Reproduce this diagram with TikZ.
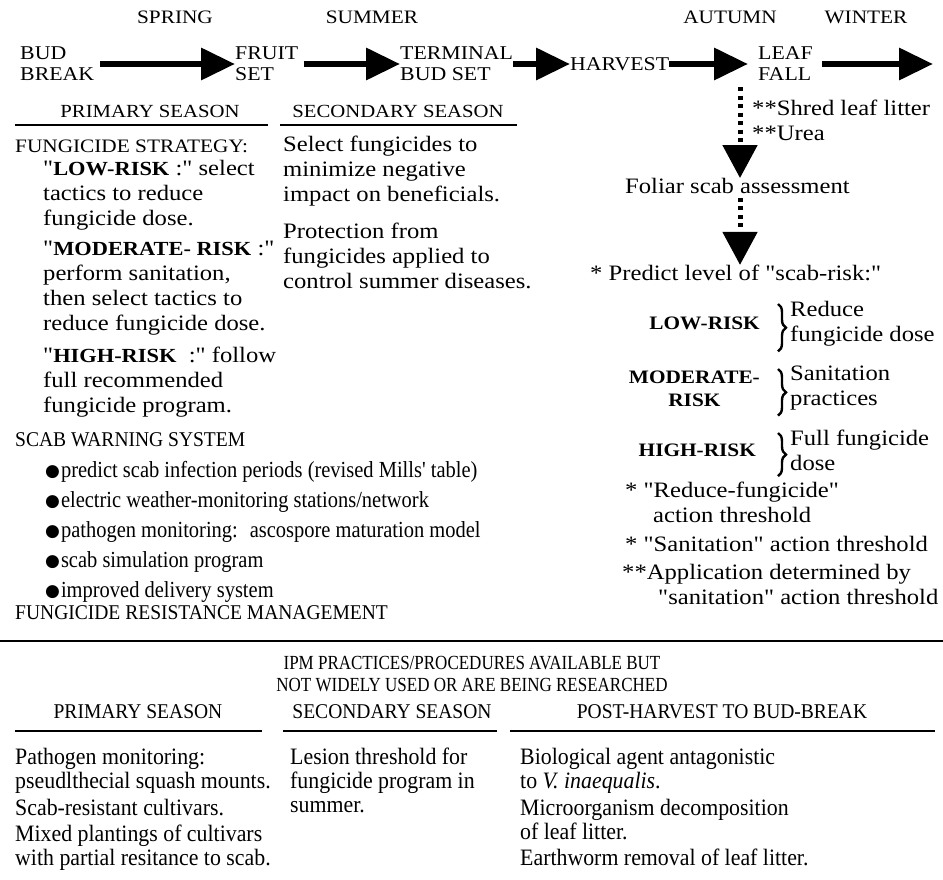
\documentclass[tikz,border=0pt]{standalone}
\usepackage{fontspec}
\setmainfont{Liberation Serif}[Ligatures=TeXOff, FakeStretch=1.12]
\newfontfamily\narrowrm{Liberation Serif}[Ligatures=TeXOff, FakeStretch=0.93]
\newfontfamily\slimrm{Liberation Serif}[Ligatures=TeXOff, FakeStretch=0.85]
\newfontfamily\listrm{Liberation Serif}[Ligatures=TeXOff, FakeStretch=0.89]
\newfontfamily\dotfont{DejaVu Sans}
\usetikzlibrary{arrows.meta}
\usetikzlibrary{positioning}
\usetikzlibrary{decorations.pathreplacing}

\newcommand{\blob}{\raisebox{0.5pt}{\dotfont\fontsize{17}{0}\selectfont ●}\hspace{1pt}}
\newcommand{\riskword}[1]{{\bfseries\fontsize{20}{25}\selectfont #1}}

\tikzset{
  season/.style={font=\fontsize{19}{21}\selectfont, inner sep=0pt},
  stage/.style={font=\fontsize{19.5}{21}\selectfont, align=left, inner sep=0pt, anchor=west},
  head/.style={font=\fontsize{18.5}{20}\selectfont, inner sep=0pt},
  body/.style={font=\fontsize{22}{25}\selectfont, align=left, inner sep=0pt, anchor=north west},
  risk/.style={font=\bfseries\fontsize{19}{23}\selectfont, align=center, inner sep=0pt},
  caps/.style={font=\narrowrm\fontsize{21}{22}\selectfont, align=center, inner sep=0pt},
  narrow/.style={font=\narrowrm\fontsize{23.5}{24}\selectfont, align=left, inner sep=0pt, anchor=north west},
  flow/.style={line width=6.5pt, -{Triangle[length=34pt,width=31pt]}},
  drop/.style={line width=5pt, dash pattern=on 4pt off 4.5pt, -{Triangle[length=33pt,width=34pt]}},
  rule/.style={line width=2.6pt},
  curly/.style={decorate, decoration={brace, amplitude=8pt}, line width=2.4pt},
}

\begin{document}
\begin{tikzpicture}[x=1pt,y=-1pt]
\useasboundingbox[fill=white] (0,0) rectangle (943,880);

% seasons
\node[season] (spring) at (175,17) {SPRING};
\node[season] (summer) at (372,17) {SUMMER};
\node[season] (autumn) at (730,17) {AUTUMN};
\node[season] (winter) at (866,17) {WINTER};

% growth stages along the year
\node[stage] (budbreak) at (20,64) {BUD\\BREAK};
\node[stage] (fruitset) at (235,64) {FRUIT\\SET};
\node[stage] (budset) at (400,64) {TERMINAL\\BUD SET};
\node[stage] (harvest) at (570,64) {HARVEST};
\node[stage] (leaffall) at (758,64) {LEAF\\FALL};
\coordinate (yearend) at (933,64);

\draw[flow, shorten <=6pt] (budbreak) -- (fruitset);
\draw[flow, shorten <=5pt] (fruitset) -- (budset);
\draw[flow] (budset) -- (harvest);
\draw[flow, shorten >=10pt] (harvest) -- (leaffall);
\draw[flow, shorten <=9pt] (leaffall) -- (yearend);

% season headings
\node[head] (primary) at (150,111) {PRIMARY SEASON};
\node[head] (secondary) at (398,111) {SECONDARY SEASON};
\draw[rule] (15,125) -- (268,125);
\draw[rule] (280,125) -- (517,125);

% primary season column
\node[head, anchor=west, font=\fontsize{19}{20}\selectfont] (strategy) at (15,146) {FUNGICIDE STRATEGY:};
\node[body] (lowrisk) at (43,160) {"\riskword{LOW-RISK} :" select\\tactics to reduce\\fungicide dose.};
\node[body] (modrisk) at (43,241) {"\riskword{MODERATE- RISK} :"\\perform sanitation,\\then select tactics to\\reduce fungicide dose.};
\node[body] (highrisk) at (43,347) {"\riskword{HIGH-RISK} \ :" follow\\full recommended\\fungicide program.};

\node[caps, anchor=west] (warning) at (15,440) {SCAB WARNING SYSTEM};
\node[narrow, font=\listrm\fontsize{23}{30}\selectfont] (bullets) at (45,461) {\blob predict scab infection periods (revised Mills' table)\\
\blob electric weather-monitoring stations/network\\
\blob pathogen monitoring: \ ascospore maturation model\\
\blob scab simulation program\\
\blob improved delivery system};
\node[caps, anchor=west] (resistmgmt) at (15,613) {FUNGICIDE RESISTANCE MANAGEMENT};

% secondary season column
\node[body] (select) at (283,136) {Select fungicides to\\minimize negative\\impact on beneficials.};
\node[body] (protect) at (283,223) {Protection from\\fungicides applied to\\control summer diseases.};

% post-harvest column
\node[body] (shred) at (752,100) {**Shred leaf litter\\**Urea};
\node[body, anchor=west] (foliar) at (625,186) {Foliar scab assessment};
\node[body, anchor=west] (predict) at (590,273) {* Predict level of "scab-risk:"};
\coordinate (fallfoot) at ([xshift=-18pt]leaffall.south west);
\draw[drop, shorten <=6pt] (fallfoot) -- (fallfoot |- foliar.north);
\draw[drop, shorten <=4pt] (fallfoot |- foliar.south) -- (fallfoot |- predict.north);

\node[body] (reduce) at (790,301) {Reduce\\fungicide dose};
\node[risk, left=30pt of reduce] (low) {LOW-RISK};
\draw[curly] ([xshift=-12pt,yshift=-3pt]reduce.north west) -- ([xshift=-12pt,yshift=-5pt]reduce.south west);

\node[body] (sanitation) at (790,366) {Sanitation\\practices};
\node[risk, left=30pt of sanitation] (moderate) {MODERATE-\\RISK};
\draw[curly] ([xshift=-12pt,yshift=-3pt]sanitation.north west) -- ([xshift=-12pt,yshift=-5pt]sanitation.south west);

\node[body] (fulldose) at (790,430) {Full fungicide\\dose};
\node[risk, left=34pt of fulldose] (high) {HIGH-RISK};
\draw[curly] ([xshift=-12pt,yshift=-3pt]fulldose.north west) -- ([xshift=-12pt,yshift=-5pt]fulldose.south west);

\node[body] (thresh1) at (625,482) {* "Reduce-fungicide"\\\hspace*{28pt}action threshold};
\node[body] (thresh2) at (625,536) {* "Sanitation" action threshold};
\node[body] (thresh3) at (622,564) {**Application determined by\\\hspace*{36pt}"sanitation" action threshold};

% practices not yet in wide use
\draw[rule] (0,641) -- (943,641);
\node[caps, anchor=north, font=\slimrm\fontsize{20}{22}\selectfont] (ipm) at (472,656) {IPM PRACTICES/PROCEDURES AVAILABLE BUT\\NOT WIDELY USED OR ARE BEING RESEARCHED};

\node[caps] (primary2) at (138,712) {PRIMARY SEASON};
\node[caps] (secondary2) at (392,712) {SECONDARY SEASON};
\node[caps] (postharvest) at (722,712) {POST-HARVEST TO BUD-BREAK};
\draw[rule] (15,731) -- (262,731);
\draw[rule] (283,731) -- (497,731);
\draw[rule] (510,731) -- (935,731);

\node[narrow] (pathmon) at (15,748) {Pathogen monitoring:\\pseudlthecial squash mounts.};
\node[narrow] (cultivars) at (15,799) {Scab-resistant cultivars.};
\node[narrow] (mixed) at (15,825) {Mixed plantings of cultivars\\with partial resitance to scab.};

\node[narrow] (lesion) at (290,748) {Lesion threshold for\\fungicide program in\\summer.};

\node[narrow] (bioagent) at (520,748) {Biological agent antagonistic\\to \textit{V. inaequalis}.};
\node[narrow] (microbe) at (520,799) {Microorganism decomposition\\of leaf litter.};
\node[narrow] (worm) at (520,849) {Earthworm removal of leaf litter.};
\end{tikzpicture}
\end{document}
